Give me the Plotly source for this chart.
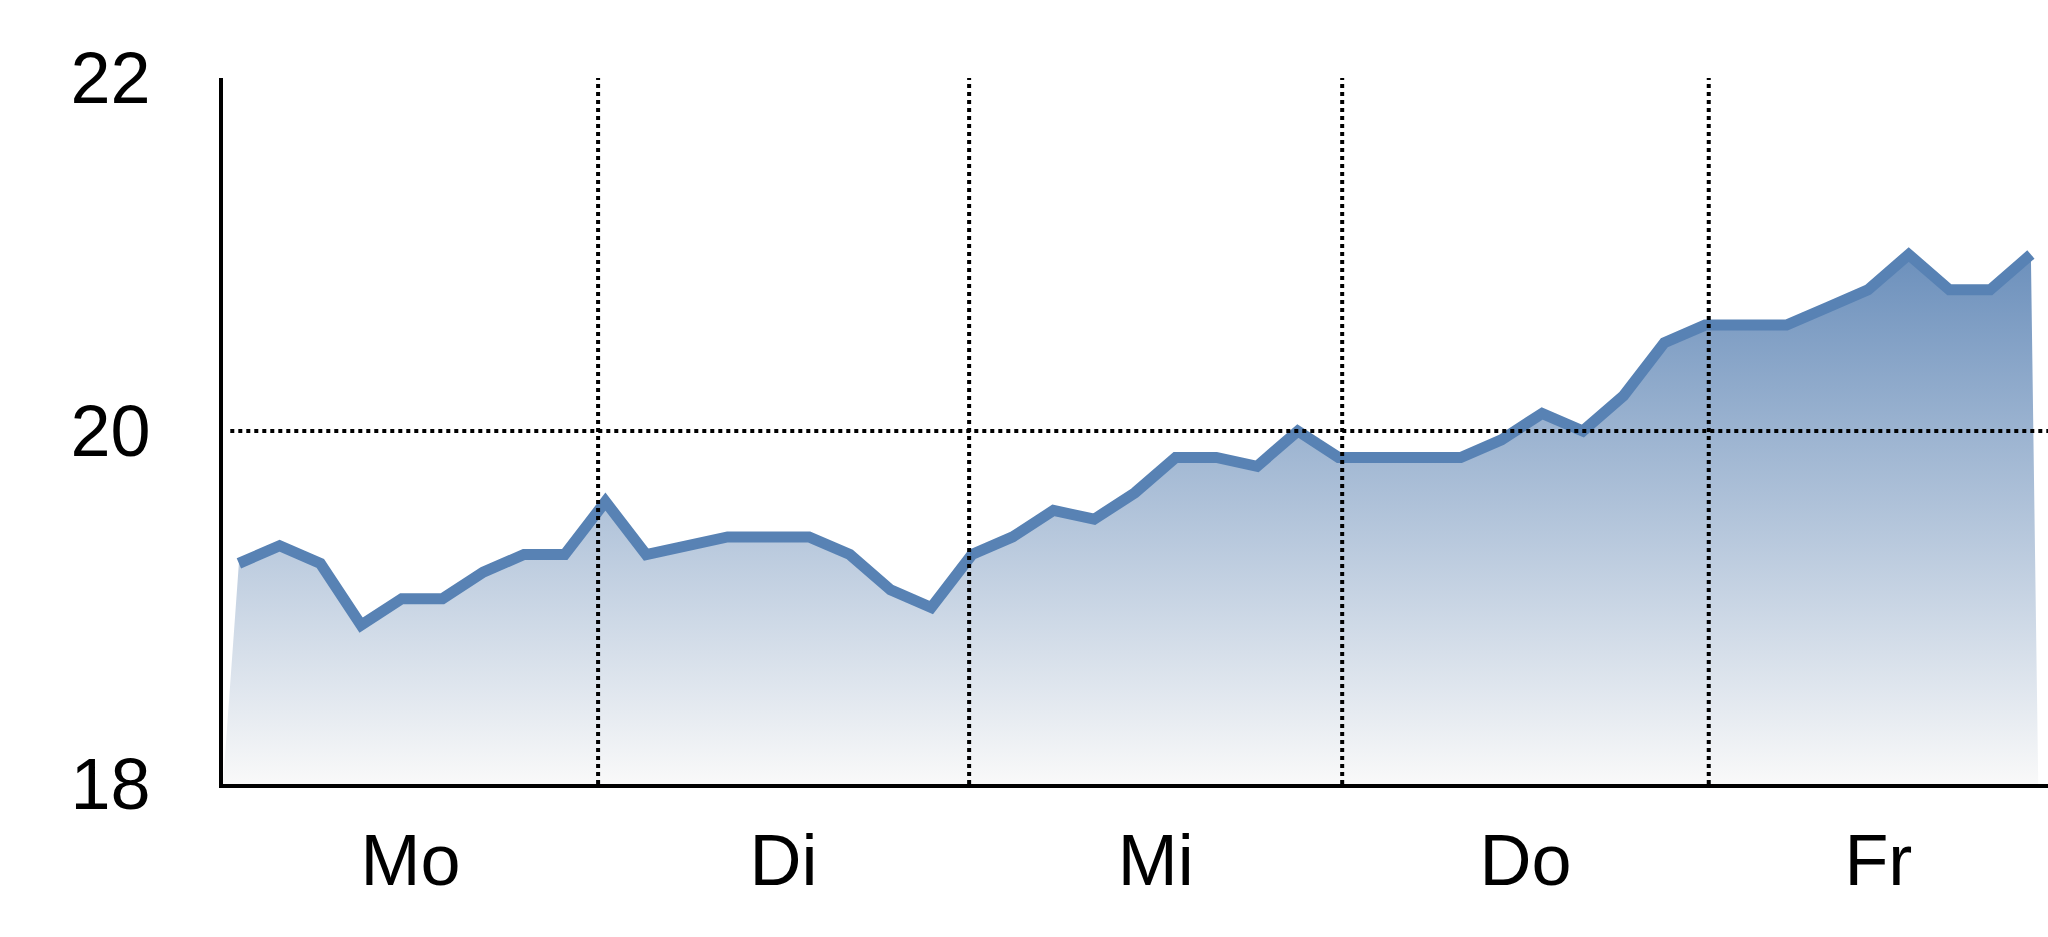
import plotly.graph_objects as go

# ---- data ----
days = ["Mo", "Di", "Mi", "Do", "Fr"]
values = [
    19.25, 19.35, 19.25, 18.9, 19.05, 19.05, 19.2, 19.3, 19.3,
    19.6, 19.3, 19.35, 19.4, 19.4, 19.4, 19.3, 19.1, 19.0,
    19.3, 19.4, 19.55, 19.5, 19.65, 19.85, 19.85, 19.8, 20.0,
    19.85, 19.85, 19.85, 19.85, 19.95, 20.1, 20.0, 20.2, 20.5,
    20.6, 20.6, 20.6, 20.7, 20.8, 21.0, 20.8, 20.8, 21.0,
]
y_ticks = [18, 20, 22]

# ---- layout configuration (axis units = reading index) ----
x_range = [-0.39, 44.42]
day_edges = [x_range[0], 8.82, 17.93, 27.09, 36.09, x_range[1]]
label_pos = [(a + b) / 2 for a, b in zip(day_edges[:-1], day_edges[1:])]
y_range = [18, 22]

x = list(range(len(values)))
fill_x = [x_range[0]] + x + [x[-1] + 0.18]
fill_y = [y_range[0]] + values + [y_range[0]]

FONT = "Liberation Sans Narrow, Arial Narrow, Liberation Sans, Arial, sans-serif"
LINE = "rgb(88,130,180)"

fig = go.Figure()
fig.add_trace(go.Scatter(
    x=fill_x, y=fill_y, mode="lines", fill="toself",
    line=dict(width=0, color="rgba(0,0,0,0)"),
    fillgradient=dict(type="vertical", start=18, stop=21,
                      colorscale=[[0, "rgb(249,249,249)"], [1, "rgb(108,144,188)"]]),
    hoverinfo="skip", showlegend=False,
))
fig.add_trace(go.Scatter(
    x=x, y=values, mode="lines",
    line=dict(width=11, color=LINE),
    showlegend=False,
))

DOT = "4px,4px"
shapes = []
for e in day_edges[1:-1]:
    shapes.append(dict(type="line", xref="x", yref="y", x0=e, x1=e,
                       y0=y_range[0], y1=y_range[1], layer="above",
                       line=dict(color="black", width=4, dash=DOT)))
shapes.append(dict(type="line", xref="paper", yref="y", x0=0.004, x1=1,
                   y0=20, y1=20, layer="above",
                   line=dict(color="black", width=4, dash=DOT)))

fig.update_layout(
    width=2048, height=937,
    margin=dict(l=223, r=0, t=78, b=153, pad=0),
    paper_bgcolor="white", plot_bgcolor="white",
    font=dict(family=FONT, size=72, color="black"),
    shapes=shapes,
    xaxis=dict(range=x_range, tickmode="array", tickvals=label_pos, ticktext=days,
               showgrid=False, zeroline=False, showline=True, linecolor="black",
               linewidth=4, ticks="", ticklabelstandoff=11),
    yaxis=dict(range=y_range, tickmode="array", tickvals=y_ticks,
               ticktext=[str(t) for t in y_ticks],
               showgrid=False, zeroline=False, showline=True, linecolor="black",
               linewidth=4, ticks="", ticklabelstandoff=54),
)

fig.write_html(
    "out.html",
    config={"displayModeBar": False},
    post_script="document.body.style.margin='0';document.body.style.overflow='hidden';",
)
